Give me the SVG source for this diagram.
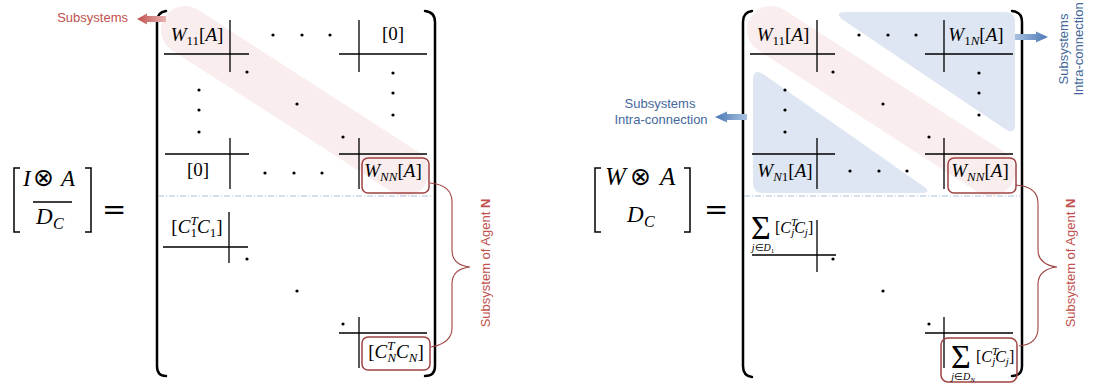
<svg xmlns="http://www.w3.org/2000/svg" width="1096" height="387" viewBox="0 0 1096 387">
<style>
.m{font-family:"Liberation Serif",serif;font-size:19px;fill:#000}
.i{font-style:italic}
.s{font-size:13px}
.ln{stroke:#000;stroke-width:1.3;fill:none}
.pb{stroke:#000;stroke-width:2.5;fill:none;stroke-linecap:round}
.eb{stroke:#000;stroke-width:1.5;fill:none}
.box{fill:none;stroke:#a04242;stroke-width:1.5}
.brace{fill:none;stroke:#a04242;stroke-width:1.1}
.dash{stroke:#a8bfdc;stroke-width:1;stroke-dasharray:6 2 1 2}
.band{stroke:#f8e2e2;stroke-width:48;stroke-linecap:round;opacity:0.6}
.blue{fill:#dde6f2}
.rt{font-family:"Liberation Sans",sans-serif;font-size:13px;fill:#c0504d}
.bt{font-family:"Liberation Sans",sans-serif;font-size:13px;fill:#44689c}
.eqs{font-family:"DejaVu Sans",sans-serif;font-size:29px;fill:#000}
.ot{font-family:"DejaVu Sans",sans-serif;font-size:25px;fill:#000}
.big{font-family:"Liberation Serif",serif;font-style:italic;fill:#000}
</style>
<defs>
<linearGradient id="gRed" x1="0" x2="1" y1="0" y2="0"><stop offset="0" stop-color="#c0504d"/><stop offset="1" stop-color="#e8b4b3"/></linearGradient>
<linearGradient id="gBlueL" x1="0" x2="1" y1="0" y2="0"><stop offset="0" stop-color="#4a78b5"/><stop offset="1" stop-color="#a9c1e0"/></linearGradient>
<linearGradient id="gBlueR" x1="1" x2="0" y1="0" y2="0"><stop offset="0" stop-color="#4a78b5"/><stop offset="1" stop-color="#a9c1e0"/></linearGradient>
</defs>

<!-- Left equation -->
<g id="eq-left">
<path class="eb" d="M20,168 H14 V232 H20"/>
<path class="eb" d="M85,168 H91 V232 H85"/>
<text class="big" x="23" y="186" style="font-size:23px">I</text>
<text class="ot" x="33" y="186">⊗</text>
<text class="big" x="61" y="186" style="font-size:23px">A</text>
<path class="ln" d="M33,202 H72"/>
<text class="big" x="36" y="224" style="font-size:23px">D</text>
<text class="big" x="53" y="229" style="font-size:16px">C</text>
<text class="eqs" x="102" y="219">=</text>
</g>

<!-- Left matrix -->
<g id="matrix-left">
<line class="band" x1="185" y1="30" x2="405" y2="172"/>
<path class="pb" d="M166,11 Q157,12 157,22 V366 Q157,376 166,376"/>
<path class="pb" d="M425,11 Q435,12 435,22 V366 Q435,376 425,376"/>
<line class="dash" x1="158" y1="196" x2="433" y2="196"/>
<g class="ln">
<path d="M164,54 H249 M230,20 V72"/>
<path d="M339,54 H427 M359,20 V72"/>
<path d="M165,154 H249 M230,138 V189"/>
<path d="M339,154 H427 M359,138 V189"/>
<path d="M163,247 H248 M229,212 V263"/>
<path d="M339,333 H427 M359,317 V368"/>
</g>
<g fill="#000">
<circle cx="273" cy="35" r="1.6"/><circle cx="302" cy="35" r="1.6"/><circle cx="330" cy="35" r="1.6"/>
<circle cx="247" cy="72" r="1.6"/><circle cx="297" cy="104" r="1.6"/><circle cx="343" cy="137" r="1.6"/>
<circle cx="199" cy="90" r="1.6"/><circle cx="199" cy="110" r="1.6"/><circle cx="199" cy="132" r="1.6"/>
<circle cx="393" cy="73" r="1.6"/><circle cx="393" cy="93" r="1.6"/><circle cx="393" cy="115" r="1.6"/>
<circle cx="265" cy="173" r="1.6"/><circle cx="294" cy="173" r="1.6"/><circle cx="322" cy="173" r="1.6"/>
<circle cx="247" cy="259" r="1.6"/><circle cx="297" cy="291" r="1.6"/><circle cx="343" cy="324" r="1.6"/>
</g>
<text class="m" x="197" y="41" text-anchor="middle"><tspan class="i">W</tspan><tspan class="s" dy="4">11</tspan><tspan dy="-4">[</tspan><tspan class="i">A</tspan>]</text>
<text class="m" x="393" y="40" text-anchor="middle">[0]</text>
<text class="m" x="198" y="176" text-anchor="middle">[0]</text>
<text class="m" x="197" y="233" text-anchor="middle">[<tspan class="i">C</tspan><tspan class="s i" dy="-8">T</tspan><tspan class="s" dx="-7" dy="12">1</tspan><tspan class="i" dy="-4">C</tspan><tspan class="s" dy="4">1</tspan><tspan dy="-4">]</tspan></text>
</g>
<g id="box-WNN-left">
<rect class="box" x="362" y="158" width="67" height="35" rx="6"/>
<text class="m" x="393" y="177" text-anchor="middle"><tspan class="i">W</tspan><tspan class="s i" dy="4">NN</tspan><tspan dy="-4">[</tspan><tspan class="i">A</tspan>]</text>
</g>
<g id="box-CN-left">
<rect class="box" x="362" y="337" width="68" height="33" rx="6"/>
<text class="m" x="396" y="358" text-anchor="middle">[<tspan class="i">C</tspan><tspan class="s i" dy="-8">T</tspan><tspan class="s i" dx="-7" dy="12">N</tspan><tspan class="i" dy="-4">C</tspan><tspan class="s i" dy="4">N</tspan><tspan dy="-4">]</tspan></text>
</g>
<g id="label-subsystems-left">
<text class="rt" x="128" y="22" text-anchor="end">Subsystems</text>
</g>
<g id="label-agent-left">
<text class="rt" transform="translate(490,263) rotate(-90)" text-anchor="middle">Subsystem of Agent <tspan font-weight="bold">N</tspan></text>
</g>

<!-- Right equation -->
<g id="eq-right">
<path class="eb" d="M601,168 H595 V232 H601"/>
<path class="eb" d="M684,168 H690 V232 H684"/>
<text class="big" x="605" y="185" style="font-size:25px">W</text>
<text class="ot" x="630" y="185">⊗</text>
<text class="big" x="660" y="185" style="font-size:25px">A</text>
<text class="big" x="627" y="222" style="font-size:23px">D</text>
<text class="big" x="644" y="227" style="font-size:16px">C</text>
<text class="eqs" x="704" y="219">=</text>
</g>

<!-- Right matrix -->
<g id="matrix-right">
<path class="blue" d="M846,12 L1005,12 Q1015,12 1015,22 L1015,124 Q1015,136 1005,129 L843,20 Q833,12 846,12 Z"/>
<path class="blue" d="M753,80 Q753,68 763,74 L923,186 Q933,193 921,193 L763,193 Q753,193 753,183 Z"/>
<line class="band" x1="771" y1="30" x2="991" y2="172"/>
<path class="pb" d="M752,11 Q743,12 743,22 V366 Q743,376 752,377"/>
<path class="pb" d="M1012,11 Q1022,12 1022,22 V366 Q1022,376 1012,376"/>
<line class="dash" x1="744" y1="196" x2="1021" y2="196"/>
<g class="ln">
<path d="M750,54 H835 M817,20 V72"/>
<path d="M925,54 H1013 M944,20 V72"/>
<path d="M752,154 H835 M817,138 V189"/>
<path d="M925,154 H1013 M944,138 V189"/>
<path d="M752,255 H836 M817,220 V272"/>
<path d="M925,333 H1013 M944,317 V368"/>
</g>
<g fill="#000">
<circle cx="859" cy="35" r="1.6"/><circle cx="888" cy="35" r="1.6"/><circle cx="916" cy="35" r="1.6"/>
<circle cx="833" cy="72" r="1.6"/><circle cx="883" cy="104" r="1.6"/><circle cx="929" cy="137" r="1.6"/>
<circle cx="785" cy="90" r="1.6"/><circle cx="785" cy="110" r="1.6"/><circle cx="785" cy="132" r="1.6"/>
<circle cx="979" cy="73" r="1.6"/><circle cx="979" cy="93" r="1.6"/><circle cx="979" cy="115" r="1.6"/>
<circle cx="850" cy="171" r="1.6"/><circle cx="879" cy="171" r="1.6"/><circle cx="907" cy="171" r="1.6"/>
<circle cx="833" cy="259" r="1.6"/><circle cx="883" cy="291" r="1.6"/><circle cx="929" cy="324" r="1.6"/>
</g>
<text class="m" x="783" y="41" text-anchor="middle"><tspan class="i">W</tspan><tspan class="s" dy="4">11</tspan><tspan dy="-4">[</tspan><tspan class="i">A</tspan>]</text>
<text class="m" x="976" y="41" text-anchor="middle"><tspan class="i">W</tspan><tspan class="s" dy="4">1</tspan><tspan class="s i">N</tspan><tspan dy="-4">[</tspan><tspan class="i">A</tspan>]</text>
<text class="m" x="785" y="177" text-anchor="middle"><tspan class="i">W</tspan><tspan class="s i" dy="4">N</tspan><tspan class="s">1</tspan><tspan dy="-4">[</tspan><tspan class="i">A</tspan>]</text>
<text class="m" x="751" y="239" style="font-size:34px">Σ</text>
<text class="m" x="763" y="251" text-anchor="middle" style="font-size:10px"><tspan class="i">j</tspan>∈<tspan class="i">D</tspan><tspan font-size="7" dy="2">1</tspan></text>
<text class="m" x="775" y="233" style="font-size:16px">[<tspan class="i">C</tspan><tspan class="i" font-size="11" dy="-7">T</tspan><tspan class="i" font-size="11" dx="-6" dy="10">j</tspan><tspan class="i" dy="-3">C</tspan><tspan class="i" font-size="11" dy="3">j</tspan><tspan dy="-3">]</tspan></text>
</g>
<g id="box-WNN-right">
<rect class="box" x="948" y="158" width="68" height="35" rx="6"/>
<text class="m" x="980" y="177" text-anchor="middle"><tspan class="i">W</tspan><tspan class="s i" dy="4">NN</tspan><tspan dy="-4">[</tspan><tspan class="i">A</tspan>]</text>
</g>
<g id="box-sum-right">
<rect class="box" x="941" y="338" width="76" height="44" rx="7"/>
<text class="m" x="951" y="368" style="font-size:34px">Σ</text>
<text class="m" x="963" y="380" text-anchor="middle" style="font-size:10px"><tspan class="i">j</tspan>∈<tspan class="i">D</tspan><tspan class="i" font-size="7" dy="2">N</tspan></text>
<text class="m" x="976" y="362" style="font-size:16px">[<tspan class="i">C</tspan><tspan class="i" font-size="11" dy="-7">T</tspan><tspan class="i" font-size="11" dx="-6" dy="10">j</tspan><tspan class="i" dy="-3">C</tspan><tspan class="i" font-size="11" dy="3">j</tspan><tspan dy="-3">]</tspan></text>
</g>
<g id="label-intra-left">
<text class="bt" x="660" y="108" text-anchor="middle">Subsystems</text>
<text class="bt" x="661" y="124" text-anchor="middle">Intra-connection</text>
</g>
<g id="label-intra-right">
<text class="bt" transform="translate(1068,49) rotate(-90)" text-anchor="middle">Subsystems</text>
<text class="bt" transform="translate(1083,49) rotate(-90)" text-anchor="middle">Intra-connection</text>
</g>
<g id="label-agent-right">
<text class="rt" transform="translate(1075,263) rotate(-90)" text-anchor="middle">Subsystem of Agent <tspan font-weight="bold">N</tspan></text>
</g>

<!-- Connectors -->
<g id="connectors">
<polygon fill="url(#gRed)" points="137,19 147,13.5 147,16 166,16 166,22 147,22 147,24.5"/>
<polygon fill="url(#gBlueL)" points="715,117 727,111.5 727,114 747,114 747,120 727,120 727,122.5"/>
<polygon fill="url(#gBlueR)" points="1048,37 1036,31.5 1036,34 1015,34 1015,40 1036,40 1036,42.5"/>
<path class="brace" d="M430,183 C442,184 452,189 452,202 L452,250 C452,261 460,266 470,267 C460,268 452,273 452,284 L452,328 C452,340 442,345 431,347"/>
<path class="brace" d="M1016,185 C1028,186 1038,191 1038,203 L1038,250 C1038,261 1047,266 1057,267 C1047,268 1038,273 1038,284 L1038,328 C1038,340 1030,345 1019,346"/>
</g>
</svg>
